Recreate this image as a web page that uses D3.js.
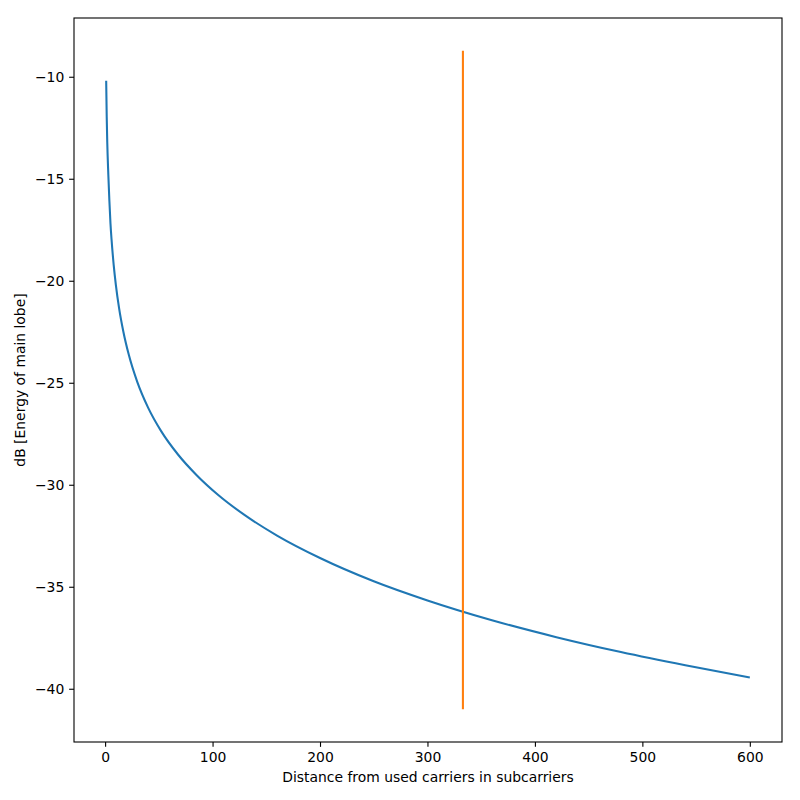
<!DOCTYPE html>
<html>
<head>
<meta charset="utf-8">
<script src="https://cdn.jsdelivr.net/npm/d3@7"></script>
<style>
  body { margin: 0; background: #fff; }
  svg text { font-family: "DejaVu Sans", sans-serif; }
</style>
</head>
<body>
<svg id="chart" width="800" height="800"></svg>
<script>
// values
var distance = [1, 1.5, 2, 3, 4, 5, 6, 8, 10, 13, 17, 22, 30, 40, 52, 68, 85, 105, 130, 160, 200, 250, 300, 360, 420, 480, 540, 600];
var energyDb = [-10.2, -11.96, -13.21, -14.8, -16.1, -17.19, -17.98, -19.23, -20.2, -21.34, -22.5, -23.62, -24.97, -26.22, -27.36, -28.53, -29.52, -30.49, -31.49, -32.49, -33.59, -34.73, -35.67, -36.64, -37.47, -38.2, -38.85, -39.45];
var markerX = [333, 333];
var markerY = [-41, -8.73];
var xTicks = [0, 100, 200, 300, 400, 500, 600];
var yTicks = [-40, -35, -30, -25, -20, -15, -10];

var margin = {left: 74, right: 18, top: 18, bottom: 58};
var svg = d3.select("#chart");
var width = 800 - margin.left - margin.right;
var height = 800 - margin.top - margin.bottom;

var g = svg.append("g")
  .attr("transform", "translate(" + margin.left + "," + margin.top + ")");

var x = d3.scaleLinear().domain([-28.95, 629.95]).range([0, width]);
var y = d3.scaleLinear().domain([-42.61, -7.12]).range([height, 0]);

var line = d3.line()
  .x(function(d) { return x(d[0]); })
  .y(function(d) { return y(d[1]); })
  .curve(d3.curveMonotoneX);

g.append("path")
  .datum(d3.zip(distance, energyDb))
  .attr("d", line)
  .attr("fill", "none")
  .attr("stroke", "#1f77b4")
  .attr("stroke-width", 2.08);

g.append("path")
  .datum(d3.zip(markerX, markerY))
  .attr("d", d3.line().x(function(d) { return x(d[0]); }).y(function(d) { return y(d[1]); }))
  .attr("fill", "none")
  .attr("stroke", "#ff7f0e")
  .attr("stroke-width", 2.08);

//axes
var xAxis = g.append("g")
  .attr("transform", "translate(0," + height + ")")
  .call(d3.axisBottom(x).tickValues(xTicks).tickSize(4.86).tickPadding(4.86).tickFormat(d3.format("d")));
var yAxis = g.append("g")
  .call(d3.axisLeft(y).tickValues(yTicks).tickSize(4.86).tickPadding(4.86).tickFormat(d3.format("d")));

[xAxis, yAxis].forEach(function(a) {
  a.select(".domain").remove();
  a.selectAll(".tick line").attr("stroke", "#000").attr("stroke-width", 1.1);
  a.selectAll(".tick text").attr("fill", "#000").style("font-size", "13.9px")
    .style("font-family", "'DejaVu Sans', sans-serif");
});

// frame
g.append("rect")
  .attr("width", width)
  .attr("height", height)
  .attr("fill", "none")
  .attr("stroke", "#000")
  .attr("stroke-width", 1.1);

svg.append("text")
  .text("Distance from used carriers in subcarriers")
  .attr("x", margin.left + width / 2)
  .attr("y", 782)
  .attr("text-anchor", "middle")
  .style("font-size", "13.9px");

svg.append("text")
  .text("dB [Energy of main lobe]")
  .attr("transform", "translate(25," + (margin.top + height / 2) + ") rotate(-90)")
  .attr("text-anchor", "middle")
  .style("font-size", "13.9px");
</script>
</body>
</html>
